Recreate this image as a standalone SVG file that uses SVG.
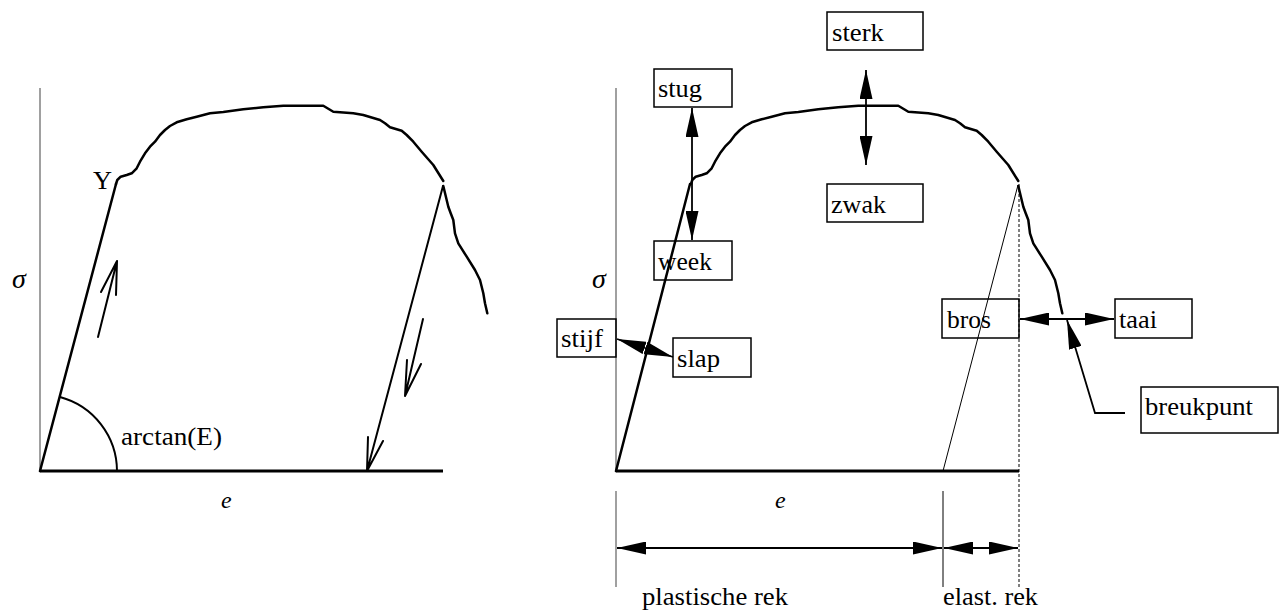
<svg xmlns="http://www.w3.org/2000/svg" xmlns:xlink="http://www.w3.org/1999/xlink" width="1285" height="610" viewBox="0 0 1285 610">
<style>
  .lbl{font-family:"Liberation Serif","Times New Roman",serif;font-size:25px;fill:#000}
  .sym{font-family:"Liberation Serif","Times New Roman",serif;font-style:italic;fill:#000}
  .box{fill:none;stroke:#000;stroke-width:1.5}
  .axis{stroke:#808080;stroke-width:1.5;fill:none}
  .base{stroke:#000;stroke-width:2.8;fill:none}
  .curve{stroke:#000;stroke-width:2.5;fill:none;stroke-linejoin:round;stroke-linecap:round}
  .thin{stroke:#000;stroke-width:1;fill:none}
  .conn{stroke:#000;stroke-width:1.8;fill:none}
  .sketch{stroke:#000;stroke-width:2;fill:none;stroke-linecap:round;stroke-linejoin:round}
</style>
<defs>
  <marker id="head" viewBox="0 0 29 13" refX="29" refY="6.5" markerWidth="29" markerHeight="13" markerUnits="userSpaceOnUse" orient="auto-start-reverse">
    <path d="M0,0 L29,6.5 L0,13 Z" fill="#000"/>
  </marker>
  <!-- plastic flow part of the stress-strain curve -->
  <polyline id="flow" points="116,184 117.3,180 120.7,176.7 126.7,175 131.7,173.3 136.7,168.3 140,161.7 145,153.3 150,146.7 155,141.7 160,135 165,130 170,126 176.7,122.3 186.7,119.3 196.7,116.7 210,113.3 223.3,112 243.3,109.3 263.3,107.3 283.3,105.7 323.3,105.7 328.3,108.7 333.3,111.7 353.3,113.3 363.3,115 380,120 385,123.3 390,127.3 401.7,130.7 406.7,135 413.3,141.7 421.7,151.7 433.3,165 443.3,181"/>
  <!-- necking tail down to fracture -->
  <polyline id="tail" points="443.3,186 448.3,206.7 450.7,213.3 453.3,220 455,233.3 458.3,243.3 466.7,256.7 475,270 480,280 483.3,293.3 485,303.3 487.3,313.3"/>
</defs>

<!-- left graph: loading and unloading -->
<g id="graph-left">
  <line class="axis" x1="40" y1="88" x2="40" y2="471"/>
  <line class="base" x1="40" y1="471" x2="443" y2="471"/>
  <line class="curve" x1="40" y1="471" x2="116" y2="184"/>
  <use xlink:href="#flow" class="curve"/>
  <use xlink:href="#tail" class="curve"/>
  <path class="sketch" d="M443,186 L367,471 M368,437 L367,471 L383,441"/>
  <path class="sketch" d="M98,337 L117,261 M101,292 L117,261 L116,295"/>
  <path class="sketch" d="M423,319 L405,396 M407,360 L405,396 L421,364"/>
  <path class="sketch" d="M60,397 A77,77 0 0 1 117,471"/>
  <text class="lbl" x="93" y="189" textLength="19" lengthAdjust="spacingAndGlyphs">Y</text>
  <text class="lbl" x="121" y="445" textLength="101" lengthAdjust="spacingAndGlyphs">arctan(E)</text>
  <text class="sym" x="12" y="288" font-size="28">σ</text>
  <text class="sym" x="221" y="508" font-size="24">e</text>
</g>

<!-- right graph: material properties -->
<g id="graph-right">
  <line class="axis" x1="616" y1="88" x2="616" y2="471"/>
  <line class="base" x1="616" y1="471" x2="1019" y2="471"/>
  <line class="curve" x1="616" y1="471" x2="690" y2="184"/>
  <use xlink:href="#flow" class="curve" transform="translate(575,0)"/>
  <use xlink:href="#tail" class="curve" transform="translate(575,0)"/>
  <line class="thin" x1="943" y1="471" x2="1018" y2="185"/>
  <line class="thin" x1="1019" y1="184" x2="1019" y2="587" stroke-dasharray="3 2"/>
  <line class="axis" x1="616" y1="491" x2="616" y2="587" stroke-width="1.2"/>
  <line class="thin" x1="943" y1="491" x2="943" y2="587"/>
  <text class="sym" x="592" y="288" font-size="28">σ</text>
  <text class="sym" x="775" y="508" font-size="24">e</text>
  <text class="lbl" x="642" y="605" textLength="146" lengthAdjust="spacingAndGlyphs">plastische rek</text>
  <text class="lbl" x="943" y="605" textLength="95" lengthAdjust="spacingAndGlyphs">elast. rek</text>
</g>

<!-- labelled boxes -->
<g id="sterk"><rect class="box" x="827" y="12" width="96" height="38"/><text class="lbl" x="832" y="41" textLength="52" lengthAdjust="spacingAndGlyphs">sterk</text></g>
<g id="stug"><rect class="box" x="654" y="69" width="78" height="38"/><text class="lbl" x="658" y="97" textLength="44" lengthAdjust="spacingAndGlyphs">stug</text></g>
<g id="zwak"><rect class="box" x="827" y="184" width="96" height="38"/><text class="lbl" x="831" y="213" textLength="55" lengthAdjust="spacingAndGlyphs">zwak</text></g>
<g id="week"><rect class="box" x="654" y="241" width="78" height="39"/><text class="lbl" x="658" y="270" textLength="54" lengthAdjust="spacingAndGlyphs">week</text></g>
<g id="stijf"><rect class="box" x="557" y="319" width="59" height="38"/><text class="lbl" x="561" y="347" textLength="42" lengthAdjust="spacingAndGlyphs">stijf</text></g>
<g id="slap"><rect class="box" x="673" y="338" width="78" height="39"/><text class="lbl" x="677" y="367" textLength="43" lengthAdjust="spacingAndGlyphs">slap</text></g>
<g id="bros"><rect class="box" x="942" y="299" width="77" height="39"/><text class="lbl" x="947" y="328" textLength="44" lengthAdjust="spacingAndGlyphs">bros</text></g>
<g id="taai"><rect class="box" x="1115" y="299" width="77" height="39"/><text class="lbl" x="1119" y="328" textLength="38" lengthAdjust="spacingAndGlyphs">taai</text></g>
<g id="breukpunt"><rect class="box" x="1141" y="387" width="137" height="46"/><text class="lbl" x="1145" y="415" textLength="108" lengthAdjust="spacingAndGlyphs">breukpunt</text></g>

<!-- connectors -->
<g id="connectors">
  <line class="conn" x1="692" y1="108" x2="692" y2="240" marker-start="url(#head)" marker-end="url(#head)"/>
  <line class="conn" x1="866" y1="70" x2="866" y2="165" marker-start="url(#head)" marker-end="url(#head)"/>
  <line class="conn" x1="617" y1="339" x2="673" y2="357" marker-start="url(#head)" marker-end="url(#head)"/>
  <line class="conn" x1="1020" y1="319" x2="1114" y2="319" marker-start="url(#head)" marker-end="url(#head)"/>
  <polyline class="conn" points="1125,413 1095,413 1067,320" marker-end="url(#head)"/>
  <line class="conn" x1="617" y1="548" x2="942" y2="548" marker-start="url(#head)" marker-end="url(#head)"/>
  <line class="conn" x1="944" y1="548" x2="1018" y2="548" marker-start="url(#head)" marker-end="url(#head)"/>
</g>
</svg>
